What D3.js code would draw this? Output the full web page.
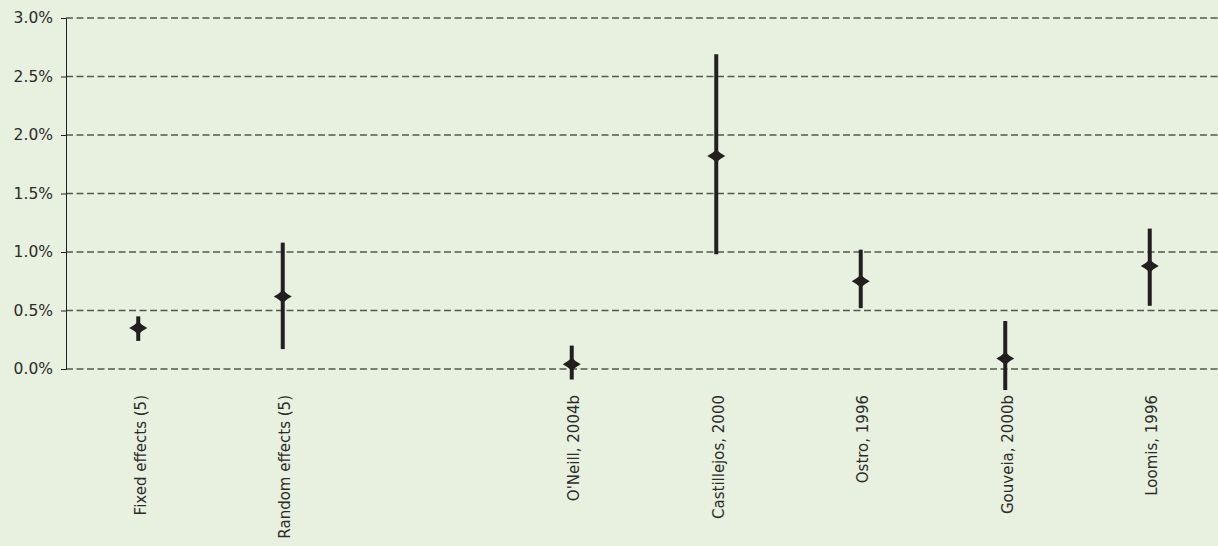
<!DOCTYPE html>
<html>
<head>
<meta charset="utf-8">
<script src="https://cdn.jsdelivr.net/npm/d3@7"></script>
<style>
	body { margin: 0; background: #e8f1df; }
	svg { display: block; }
	text { font-family: 'DejaVu Sans', sans-serif; fill: #2b2b2b; }
</style>
</head>
<body>
<svg></svg>
<script>
	// studies, in order; the empty one is the gap between pooled and single estimates
	const categories = ['Fixed effects (5)', 'Random effects (5)', '', "O'Neill, 2004b", 'Castillejos, 2000', 'Ostro, 1996', 'Gouveia, 2000b', 'Loomis, 1996'];
	const estimates = [0.35, 0.62, null, 0.04, 1.82, 0.75, 0.09, 0.88];
	const lower = [0.24, 0.17, null, -0.09, 0.98, 0.52, -0.18, 0.54];
	const upper = [0.45, 1.08, null, 0.20, 2.69, 1.02, 0.41, 1.20];
	const yTicks = [0, 0.5, 1, 1.5, 2, 2.5, 3];

	const width = 1218;
	const height = 546;

	const svg = d3.select('svg')
		.attr('width', width)
		.attr('height', height)
		.attr('viewBox', [0, 0, width, height]);

	const x = d3.scaleBand()
		.domain(d3.range(categories.length))
		.range([66, 1222])
		.padding(0);

	const y = d3.scaleLinear()
		.domain([0, 3])
		.range([369, 18]);

	// grid lines
	svg.append('g')
		.selectAll('line')
		.data(yTicks)
		.enter()
			.append('line')
			.attr('x1', 66)
			.attr('x2', 1218)
			.attr('y1', d => y(d))
			.attr('y2', d => y(d))
			.attr('stroke', '#545751')
			.attr('stroke-width', 1.3)
			.attr('stroke-dasharray', '7,3.5');

	// y axis
	const yAxis = svg.append('g')
		.attr('transform', 'translate(66,0)')
		.call(
			d3.axisLeft(y)
				.tickValues(yTicks)
				.tickFormat(d => d.toFixed(1) + '%')
				.tickSize(5)
				.tickPadding(8)
		);
	yAxis.select('.domain').attr('stroke', '#231f20');
	yAxis.selectAll('.tick line').attr('stroke', '#231f20');
	yAxis.selectAll('.tick text')
		.attr('fill', '#2b2b2b')
		.style('font-size', '15.5px')
		.style('font-family', "'DejaVu Sans', sans-serif");

	const data = categories.map((c, i) => ({
		i: i,
		name: c,
		est: estimates[i],
		lo: lower[i],
		hi: upper[i]
	}));
	const points = data.filter(d => d.est !== null);
	const cx = (d) => x(d.i) + x.bandwidth() / 2;

	// error bars
	svg.append('g')
		.selectAll('line')
		.data(points)
		.enter()
			.append('line')
			.attr('x1', cx)
			.attr('x2', cx)
			.attr('y1', d => y(d.lo))
			.attr('y2', d => y(d.hi))
			.attr('stroke', '#231f20')
			.attr('stroke-width', 4);

	// diamond markers
	svg.append('g')
		.selectAll('path')
		.data(points)
		.enter()
			.append('path')
			.attr('d', 'M-9,0Q-4,-2.5 0,-6.5Q4,-2.5 9,0Q4,2.5 0,6.5Q-4,2.5 -9,0Z')
			.attr('transform', d => 'translate(' + cx(d) + ',' + y(d.est) + ')')
			.attr('fill', '#231f20');

	// rotated category labels
	svg.append('g')
		.selectAll('text')
		.data(data.filter(d => d.name !== ''))
		.enter()
			.append('text')
			.text(d => d.name)
			.attr('text-anchor', 'end')
			.attr('dy', '0.35em')
			.attr('transform', d => 'translate(' + (cx(d) + 2) + ',395) rotate(-90)')
			.style('font-size', '15px');
</script>
</body>
</html>
